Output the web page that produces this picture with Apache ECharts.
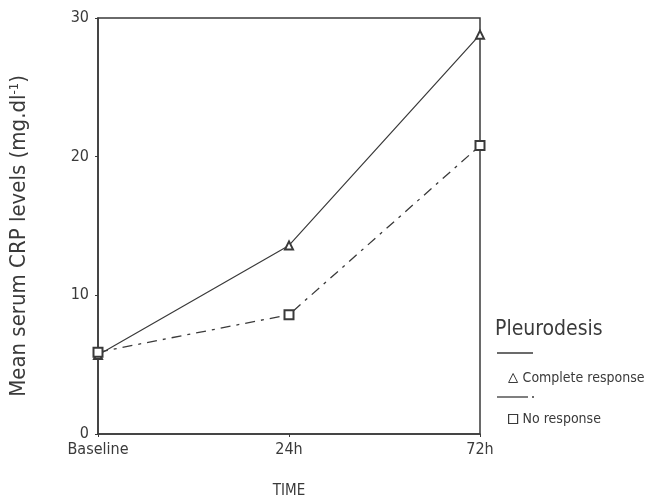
<!DOCTYPE html>
<html lang="en">
<head>
    <meta charset="UTF-8">
    <title>CRP levels</title>
    <style>
        body { margin: 0; background: #fff; }
        #box { width: 649px; height: 500px; }
    </style>
    <script src="https://cdn.jsdelivr.net/npm/echarts@6/dist/echarts.min.js"></script>
</head>
<body>
    <div id="box"></div>
    <script>
        // data
        let times = ['Baseline', '24h', '72h'];
        let completeResp = [5.7, 13.6, 28.8];
        let noResp = [5.9, 8.6, 20.8];
        let yTicks = [0, 10, 20, 30];

        (function () {
            let ink = '#3a3a3a';
            let font = "'Liberation Sans Narrow', 'DejaVu Sans Condensed', 'Liberation Sans', sans-serif";

            let option = {
                backgroundColor: '#fff',
                textStyle: { fontFamily: font, color: ink },
                animation: false,
                title: {
                    text: 'Pleurodesis',
                    left: 490,
                    top: 314,
                    textStyle: { fontFamily: font, fontSize: 21, fontWeight: 'normal', color: ink }
                },
                legend: {
                    orient: 'vertical',
                    left: 503,
                    top: 366,
                    itemWidth: 9,
                    itemHeight: 9,
                    itemGap: 27,
                    textStyle: { fontFamily: font, fontSize: 14, color: ink, padding: [9, 0, 0, 0] },
                    data: [
                        { name: 'Complete response', icon: 'triangle',
                          itemStyle: { color: '#fff', borderColor: ink, borderWidth: 1 } },
                        { name: 'No response', icon: 'rect',
                          itemStyle: { color: '#fff', borderColor: ink, borderWidth: 1.2 } }
                    ]
                },
                grid: {
                    left: 98, right: 169, top: 18, bottom: 66,
                    outerBoundsMode: 'none',
                    containLabel: false,
                    show: true, borderColor: ink, borderWidth: 1.5
                },
                xAxis: {
                    type: 'category',
                    data: times,
                    boundaryGap: false,
                    name: 'TIME',
                    nameLocation: 'middle',
                    nameGap: 50,
                    nameTextStyle: { fontSize: 15, color: ink },
                    axisLine: { lineStyle: { color: ink, width: 1.5 } },
                    axisTick: { length: 3, lineStyle: { color: ink } },
                    axisLabel: { fontSize: 16, color: ink, margin: 8 }
                },
                yAxis: {
                    type: 'value',
                    min: yTicks[0],
                    max: yTicks[yTicks.length - 1],
                    interval: 10,
                    name: '{a|Mean serum CRP levels (mg.dl}{s|-1}{a|)}',
                    nameLocation: 'middle',
                    nameGap: 68,
                    nameTextStyle: {
                        padding: [0, 20, 0, 0],
                        rich: {
                            a: { fontFamily: font, fontSize: 22, color: ink },
                            s: { fontFamily: font, fontSize: 13, color: ink, verticalAlign: 'top', padding: [0, 0, 9, 0] }
                        }
                    },
                    splitLine: { show: false },
                    axisLine: { show: true, lineStyle: { color: ink, width: 1.5 } },
                    axisTick: { show: true, length: 3, lineStyle: { color: ink } },
                    axisLabel: { fontSize: 16, color: ink, margin: 9 }
                },
                series: [
                    {
                        name: 'Complete response',
                        type: 'line',
                        data: completeResp,
                        symbol: 'emptyTriangle',
                        symbolSize: 8,
                        color: ink,
                        lineStyle: { color: ink, width: 1.2, type: 'solid' },
                        itemStyle: { color: ink, borderWidth: 1.2 }
                    },
                    {
                        name: 'No response',
                        type: 'line',
                        data: noResp,
                        symbol: 'emptyRect',
                        symbolSize: 9,
                        color: ink,
                        lineStyle: { color: ink, width: 1.3, type: [10, 6, 3, 6] },
                        itemStyle: { color: ink, borderWidth: 1.2 }
                    }
                ],
                graphic: [
                    { type: 'line', shape: { x1: 497, y1: 353, x2: 533, y2: 353 },
                      style: { stroke: ink, lineWidth: 1.3 } },
                    { type: 'line', shape: { x1: 497, y1: 397, x2: 528, y2: 397 },
                      style: { stroke: ink, lineWidth: 1.3 } },
                    { type: 'line', shape: { x1: 532, y1: 397, x2: 534, y2: 397 },
                      style: { stroke: ink, lineWidth: 1.3 } }
                ]
            };

            let chart = echarts.init(document.getElementById('box'));
            chart.setOption(option);
        })();
    </script>
</body>
</html>
